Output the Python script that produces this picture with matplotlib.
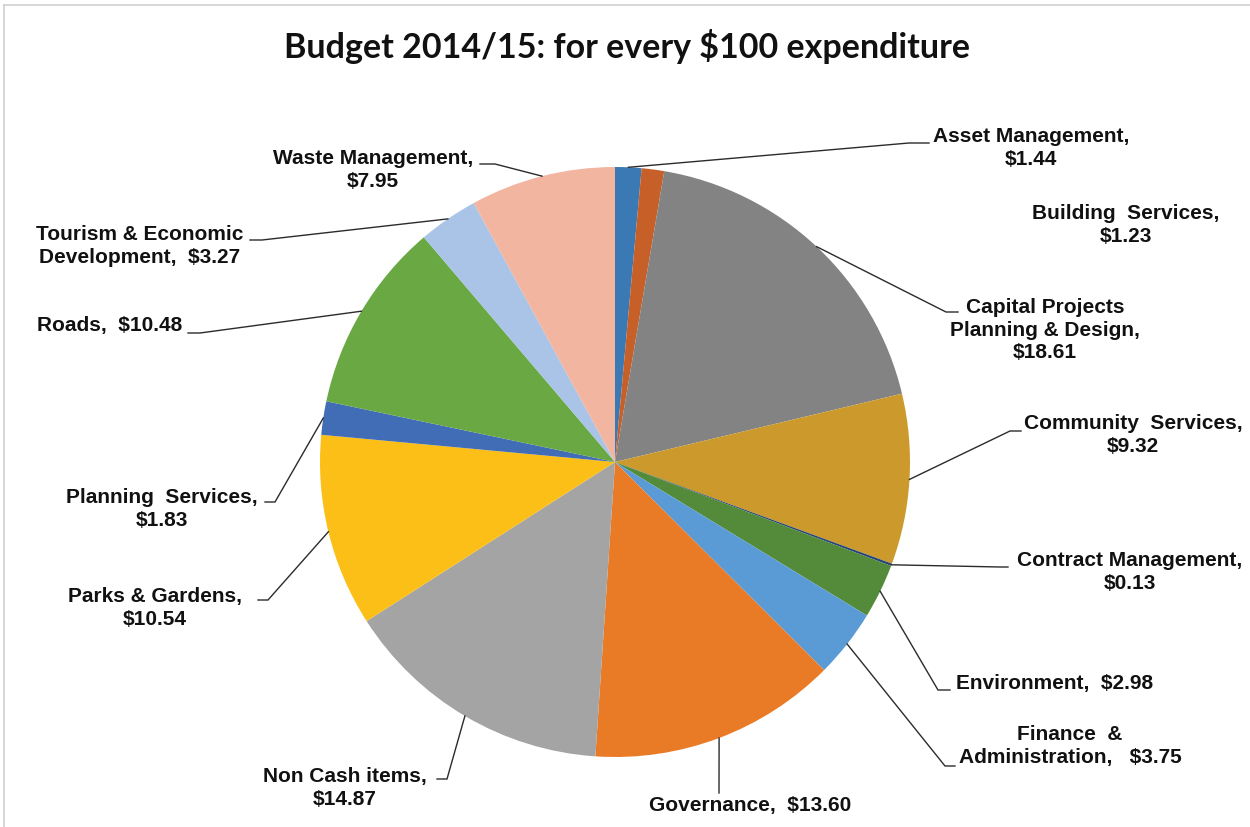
import numpy as np
import matplotlib
matplotlib.use("Agg")
import matplotlib.pyplot as plt
from matplotlib.lines import Line2D

# ---------------- data ----------------
categories = ["Asset Management", "Building Services", "Capital Projects Planning & Design",
              "Community Services", "Contract Management", "Environment",
              "Finance & Administration", "Governance", "Non Cash items",
              "Parks & Gardens", "Planning Services", "Roads",
              "Tourism & Economic Development", "Waste Management"]
values = [1.44, 1.23, 18.61, 9.32, 0.13, 2.98, 3.75, 13.60, 14.87, 10.54, 1.83, 10.48, 3.27, 7.95]
label_names = ["Asset Management,\n", "Building  Services,\n", "Capital Projects\nPlanning & Design,\n",
               "Community  Services,\n", "Contract Management,\n", "Environment,  ",
               "Finance  &\nAdministration,   ", "Governance,  ", "Non Cash items,\n",
               "Parks & Gardens,\n", "Planning  Services,\n", "Roads,  ",
               "Tourism & Economic\nDevelopment,  ", "Waste Management,\n"]
colors = ["#3A79B4", "#C65F28", "#838383", "#CC9A2C", "#264478", "#538B3B", "#5B9BD5",
          "#EA7B26", "#A4A4A4", "#FCBF17", "#416CB6", "#6AA843", "#A9C4E6", "#F2B5A0"]
title = "Budget 2014/15: for every $100 expenditure"

# ---------------- layout (pixel coords, y from top) ----------------
W, H = 1250, 827
center_px = (615, 462)
radius_px = 295
text_pos = [(1031, 148), (1126, 225), (1045, 330), (1133, 435), (1130, 572), (1055, 684),
            (1070, 746), (750, 806), (345, 788), (155, 608), (162, 509), (110, 326),
            (140, 246), (373, 170)]
# leader line points (text side first, then elbow); None = no leader
leaders = [[(929, 143), (909, 143)], None, [(958, 312), (946, 312)], [(1021, 431), (1010, 431)],
           [(1008, 567), (1000, 567)], [(950, 690), (938, 690)], [(955, 766), (945, 766)],
           [(719, 793), (719, 793)], [(437, 779), (447, 779)], [(258, 600), (268, 600)],
           [(265, 502), (275, 502)], [(188, 333), (200, 333)], [(250, 240), (262, 240)],
           [(480, 164), (495, 164)]]


def Y(py):
    return H - py


fig = plt.figure(figsize=(W / 100, H / 100), dpi=100)
ax = fig.add_axes([0, 0, 1, 1])

wedges, _ = ax.pie(values, colors=colors, startangle=90, counterclock=False,
                   center=(center_px[0], Y(center_px[1])), radius=radius_px,
                   wedgeprops=dict(linewidth=0), frame=True)
ax.set_xlim(0, W)
ax.set_ylim(0, H)
ax.set_aspect("equal")
ax.axis("off")

for i, w in enumerate(wedges):
    lbl = label_names[i] + f"${values[i]:.2f}"
    tx, ty = text_pos[i]
    ax.text(tx, Y(ty), lbl, ha="center", va="center", multialignment="center",
            fontsize=15, fontweight="bold", family="Liberation Sans", color="#111111",
            linespacing=1.25)
    if leaders[i] is None:
        continue
    mid = np.deg2rad((w.theta1 + w.theta2) / 2)
    ax_ = w.center[0] + w.r * np.cos(mid)
    ay_ = w.center[1] + w.r * np.sin(mid)
    (x0, y0), (x1, y1) = leaders[i]
    ax.plot([x0, x1, ax_], [Y(y0), Y(y1), ay_], color="#2b2b2b", lw=1.0,
            solid_joinstyle="miter")

ax.text(627, Y(47), title, ha="center", va="center", fontsize=24.5, fontweight="bold",
        family="Lato", color="#111111")

# chart border (partially visible)
fig.add_artist(Line2D([4 / W, 4 / W], [0, 1 - 5 / H], transform=fig.transFigure,
                      color="#CFCFCF", lw=1.2))
fig.add_artist(Line2D([4 / W, 1], [1 - 5 / H, 1 - 5 / H], transform=fig.transFigure,
                      color="#CFCFCF", lw=1.2))

fig.savefig("out.png", dpi=100, facecolor="white")
